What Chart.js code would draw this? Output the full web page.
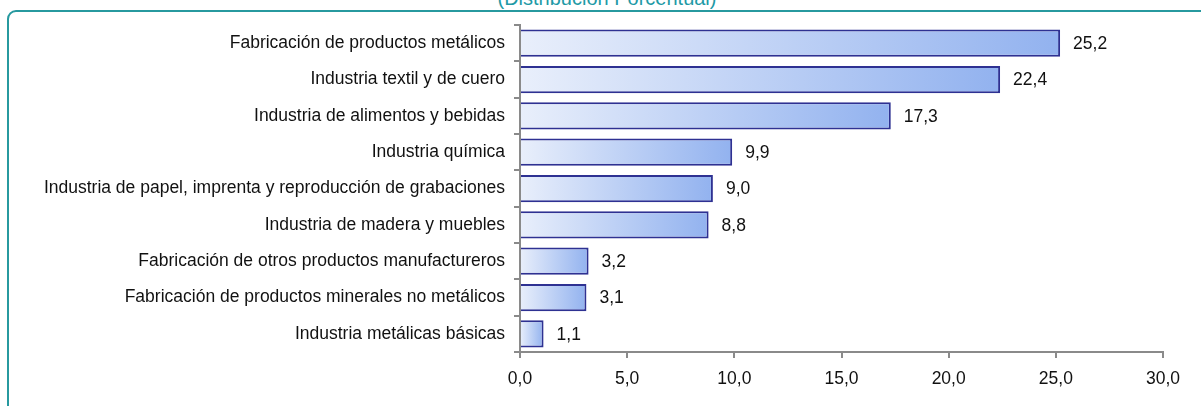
<!DOCTYPE html>
<html>
<head>
<meta charset="utf-8">
<script src="https://cdn.jsdelivr.net/npm/chart.js@4/dist/chart.umd.min.js"></script>
<style>
    html, body { margin: 0; padding: 0; background: #fff; overflow: hidden; }
    #wrap { position: relative; width: 1201px; height: 406px; }
    #frame {
        position: absolute; left: 7px; top: 10px; width: 1230px; height: 440px;
        border: 2px solid #27999f; border-radius: 9px; box-sizing: border-box;
    }
    #title {
        position: absolute; left: 0; width: 1214px; top: -12px; text-align: center;
        font-family: "Liberation Sans", Arial, sans-serif; font-size: 20px; line-height: 1;
        color: #1f9aa6;
    }
    #chart { position: absolute; left: 0; top: 0; }
</style>
</head>
<body>
<div id="wrap">
    <div id="frame"></div>
    <div id="title">(Distribución Porcentual)</div>
    <canvas id="chart" width="1201" height="406"></canvas>
</div>
<script>
// Categories and values (percent share)
const sectors = [
    'Fabricación de productos metálicos',
    'Industria textil y de cuero',
    'Industria de alimentos y bebidas',
    'Industria química',
    'Industria de papel, imprenta y reproducción de grabaciones',
    'Industria de madera y muebles',
    'Fabricación de otros productos manufactureros',
    'Fabricación de productos minerales no metálicos',
    'Industria metálicas básicas'
];
const shares = [25.2, 22.4, 17.3, 9.9, 9.0, 8.8, 3.2, 3.1, 1.1];
const axisMax = 30;
const axisStep = 5;

const FONT = '"Liberation Sans", Arial, sans-serif';
const FSIZE = 17.5;

function fmt(v, d) {
    return v.toFixed(d).replace('.', ',');
}

// gradient running along each bar, light at the start, blue at the end
function barGradient(context) {
    const chart = context.chart;
    if (!chart.chartArea) return '#a4bff2';
    const xs = chart.scales.x;
    const x0 = xs.getPixelForValue(0);
    const x1 = xs.getPixelForValue(context.raw);
    const g = chart.ctx.createLinearGradient(x0, 0, Math.max(x1, x0 + 1), 0);
    g.addColorStop(0, '#e9effb');
    g.addColorStop(1, '#92b2ef');
    return g;
}

// value labels to the right of bars
const valueLabels = {
    id: 'valueLabels',
    afterDatasetsDraw(chart) {
        const ctx = chart.ctx;
        const meta = chart.getDatasetMeta(0);
        ctx.save();
        ctx.font = FSIZE + 'px ' + FONT;
        ctx.fillStyle = '#111';
        ctx.textBaseline = 'middle';
        ctx.textAlign = 'left';
        meta.data.forEach((bar, i) => {
            ctx.fillText(fmt(shares[i], 1), bar.x + 13, bar.y + 1);
        });
        ctx.restore();
    }
};

const ctx = document.getElementById('chart').getContext('2d');
new Chart(ctx, {
    type: 'bar',
    data: {
        labels: sectors,
        datasets: [{
            data: shares,
            backgroundColor: barGradient,
            borderColor: '#2e3192',
            borderWidth: 2,
            barPercentage: 0.75,
            categoryPercentage: 1
        }]
    },
    options: {
        indexAxis: 'y',
        responsive: false,
        animation: false,
        layout: { padding: { top: 25, right: 38, left: 0, bottom: 0 } },
        scales: {
            x: {
                min: 0,
                max: axisMax,
                ticks: {
                    stepSize: axisStep,
                    color: '#111',
                    padding: 11,
                    font: { family: FONT, size: FSIZE },
                    callback: v => fmt(v, 1)
                },
                grid: { drawOnChartArea: false, tickLength: 6, color: '#8a8a8a', lineWidth: 2 },
                border: { color: '#8a8a8a', width: 2 },
                afterFit: s => { s.height = 54; }
            },
            y: {
                ticks: {
                    color: '#111',
                    padding: 9,
                    autoSkip: false,
                    font: { family: FONT, size: FSIZE }
                },
                grid: { drawOnChartArea: false, tickLength: 6, color: '#8a8a8a', lineWidth: 2, offset: true },
                border: { color: '#8a8a8a', width: 2 },
                afterFit: s => { s.width = 520; }
            }
        },
        plugins: {
            legend: { display: false },
            tooltip: { enabled: false }
        }
    },
    plugins: [valueLabels]
});
</script>
</body>
</html>
